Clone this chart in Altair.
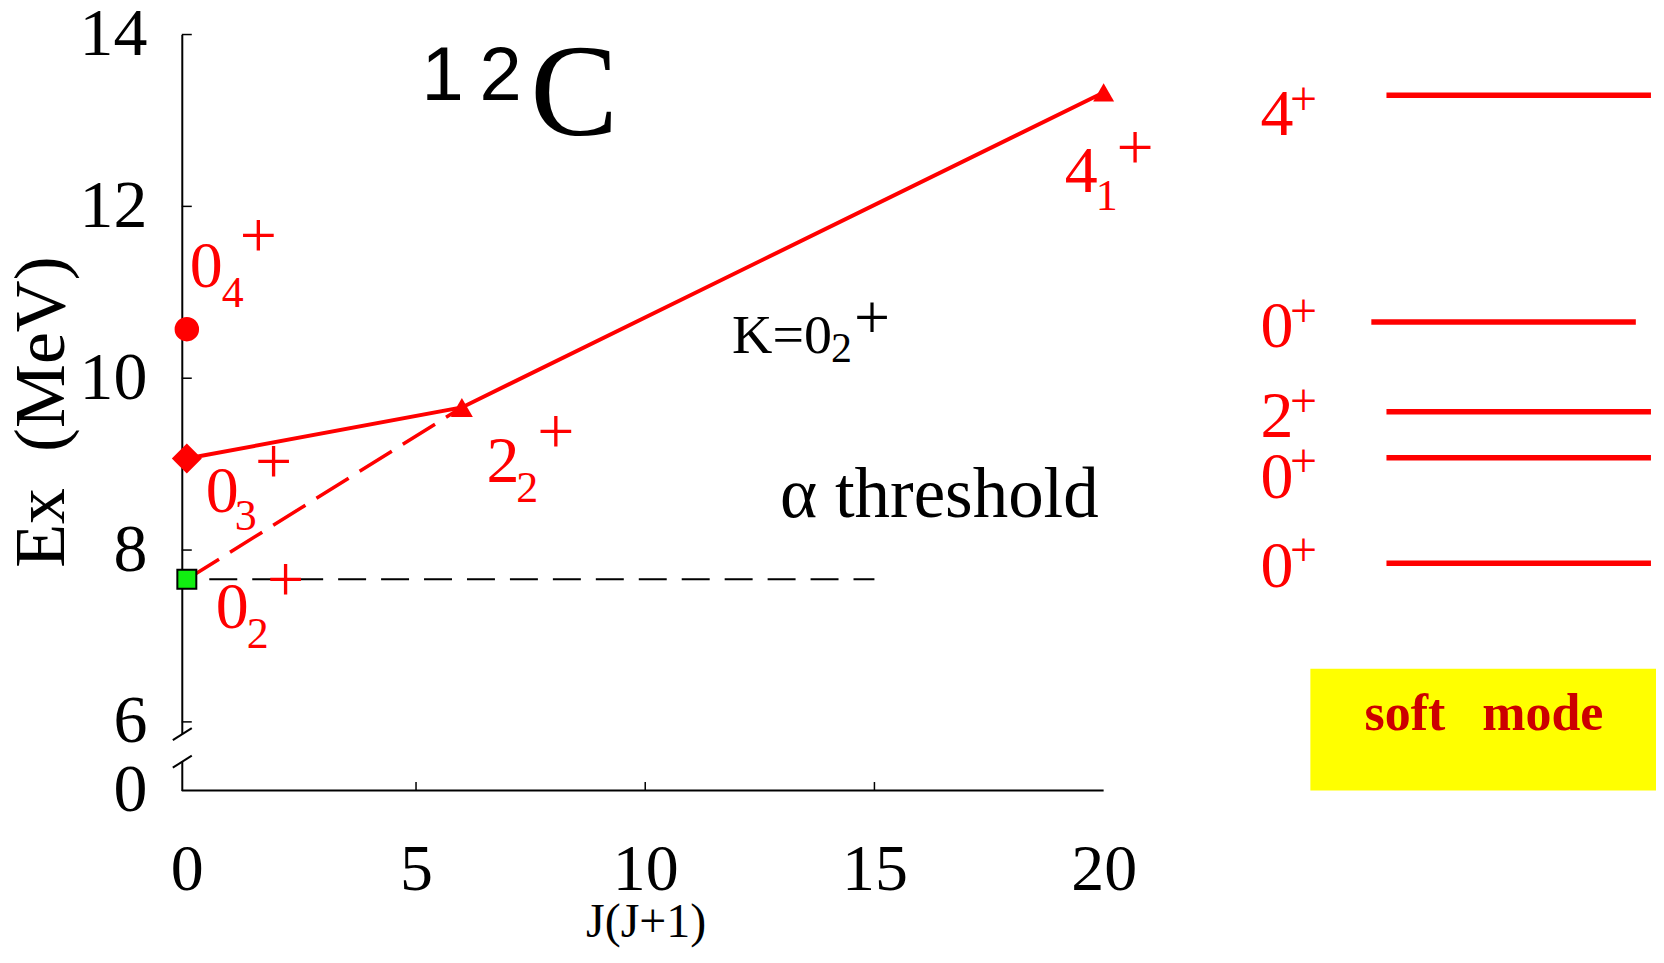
import altair as alt
import pandas as pd

# ---------------- data ----------------
X_DOMAIN = [-0.11, 32.05]
Y_DOMAIN = [5.2, 14]

# measured states (left panel)
state_x = [0, 0, 0, 6, 20]
state_y = [7.66, 9.065, 10.571, 9.66, 13.326]
state_shape = ["square", "diamond", "circle", "triangle-up", "triangle-up"]
state_size = [361, 900, 600, 484, 441]

band_x = [0, 6, 20]
band_y = [9.065, 9.66, 13.326]
dash_x = [0, 6]
dash_y = [7.66, 9.66]
thr_x = [0.49, 15]
thr_y = [7.66, 7.66]

# soft-mode levels (right panel)
level_E = [13.294, 10.655, 9.609, 9.074, 7.847]
level_x1 = [26.17, 25.84, 26.17, 26.17, 26.17]
level_x2 = [31.94, 31.61, 31.94, 31.94, 31.94]
level_J = ["4", "0", "2", "0", "0"]
level_label_x = [23.42] * 5
level_label_y = [12.826, 10.361, 9.315, 8.606, 7.571]
level_plus_x = [24.36] * 5
level_plus_y = [13.058, 10.594, 9.548, 8.850, 7.815]

box_x = [24.51]
box_x2 = [32.05]
box_y = [5.2]
box_y2 = [6.618]

# state labels: digit, subscript, plus
lab_digit = ["0", "0", "0", "2", "4"]
lab_digit_x = [0.064, 0.413, 0.631, 6.535, 19.151]
lab_digit_y = [11.06, 8.443, 7.095, 8.792, 12.163]
lab_sub = ["4", "3", "2", "2", "1"]
lab_sub_x = [0.762, 1.045, 1.306, 7.189, 19.83]
lab_sub_y = [10.83, 8.234, 6.862, 8.559, 11.954]
lab_plus_x = [1.558, 1.894, 2.156, 8.050, 20.687]
lab_plus_y = [11.41, 8.78, 7.408, 9.129, 12.431]

x_tick_vals = [5, 10, 15]
y_tick_vals = [6, 8, 10, 12, 14]
x_label_vals = [0, 5, 10, 15, 20]
y_label_vals = [5.2, 6, 8, 10, 12, 14]

RED = "#ff0000"
SERIF = "Liberation Serif"

XS = alt.Scale(domain=X_DOMAIN, nice=False, zero=False)
YS = alt.Scale(domain=Y_DOMAIN, nice=False, zero=False)
XA = alt.Axis(values=x_label_vals, ticks=False, domain=False, grid=False,
              labelFont=SERIF, labelFontSize=66, labelColor="black",
              labelPadding=47, labelFlush=False, labelOverlap=False, title=None)
YA = alt.Axis(values=y_label_vals, labelExpr="datum.value < 5.5 ? '0' : datum.label",
              ticks=False, domain=True, domainColor="black", domainWidth=2, grid=False,
              labelFont=SERIF, labelFontSize=68, labelColor="black",
              labelPadding=35, labelFlush=False, labelOverlap=False, title=None)


def ex(f="x"):
    return alt.X(f"{f}:Q", scale=XS, axis=XA)


def ey(f="y"):
    return alt.Y(f"{f}:Q", scale=YS, axis=YA)


def text_layer(t, x, y, s, c, font=SERIF, align="left", baseline="alphabetic",
               weight="normal", angle=0):
    df = pd.DataFrame({"t": t, "x": x, "y": y, "s": s, "c": c})
    return alt.Chart(df).mark_text(font=font, align=align, baseline=baseline,
                                   fontWeight=weight, angle=angle).encode(
        x=ex(), y=ey(), text="t:N",
        size=alt.Size("s:Q", scale=None), color=alt.Color("c:N", scale=None))


layers = []

# soft-mode box
layers.append(alt.Chart(pd.DataFrame({"x": box_x, "x2": box_x2, "y": box_y, "y2": box_y2}))
              .mark_rect(color="#ffff00").encode(x=ex(), x2="x2:Q", y=ey(), y2="y2:Q"))

# axis decorations: x-axis line, inward ticks, break marks
layers.append(alt.Chart(pd.DataFrame({"x": [X_DOMAIN[0]], "x2": [20], "y": [Y_DOMAIN[0]]}))
              .mark_rule(color="black", strokeWidth=2).encode(x=ex(), x2="x2:Q", y=ey()))
layers.append(alt.Chart(pd.DataFrame({"x": x_tick_vals, "y": [5.2] * 3, "y2": [5.3] * 3}))
              .mark_rule(color="black", strokeWidth=1.5).encode(x=ex(), y=ey(), y2="y2:Q"))
layers.append(alt.Chart(pd.DataFrame({"y": y_tick_vals, "x": [X_DOMAIN[0]] * 5, "x2": [0.108] * 5}))
              .mark_rule(color="black", strokeWidth=1.5).encode(x=ex(), x2="x2:Q", y=ey()))
layers.append(alt.Chart(pd.DataFrame({"x": [X_DOMAIN[0]], "y": [5.537], "y2": [5.857]}))
              .mark_rule(color="white", strokeWidth=5).encode(x=ex(), y=ey(), y2="y2:Q"))
layers.append(alt.Chart(pd.DataFrame({"x": [-0.306, -0.306], "y": [5.787, 5.467],
                                      "x2": [0.108, 0.108], "y2": [5.927, 5.607]}))
              .mark_rule(color="black", strokeWidth=2).encode(x=ex(), y=ey(), x2="x2:Q", y2="y2:Q"))

# threshold
layers.append(alt.Chart(pd.DataFrame({"x": thr_x, "y": thr_y}))
              .mark_line(color="black", strokeWidth=2, strokeDash=[28, 15]).encode(x=ex(), y=ey()))
# band lines
layers.append(alt.Chart(pd.DataFrame({"x": dash_x, "y": dash_y}))
              .mark_line(color=RED, strokeWidth=3.5, strokeDash=[38, 13]).encode(x=ex(), y=ey()))
layers.append(alt.Chart(pd.DataFrame({"x": band_x, "y": band_y}))
              .mark_line(color=RED, strokeWidth=4).encode(x=ex(), y=ey()))

# levels
layers.append(alt.Chart(pd.DataFrame({"x": level_x1, "x2": level_x2, "y": level_E}))
              .mark_rule(color=RED, strokeWidth=5.5).encode(x=ex(), x2="x2:Q", y=ey()))

# markers
sdf = pd.DataFrame({"x": state_x, "y": state_y, "shape": state_shape, "size": state_size})
layers.append(alt.Chart(sdf.iloc[1:]).mark_point(filled=True, color=RED, opacity=1).encode(
    x=ex(), y=ey(), shape=alt.Shape("shape:N", scale=None), size=alt.Size("size:Q", scale=None)))
layers.append(alt.Chart(sdf.iloc[:1]).mark_point(filled=True, fill="#11ee11", stroke="black",
                                                 strokeWidth=2, opacity=1).encode(
    x=ex(), y=ey(), shape=alt.Shape("shape:N", scale=None), size=alt.Size("size:Q", scale=None)))

# state labels
layers.append(text_layer(lab_digit, lab_digit_x, lab_digit_y, [66] * 5, [RED] * 5))
layers.append(text_layer(lab_sub, lab_sub_x, lab_sub_y, [44] * 5, [RED] * 5))
layers.append(text_layer(["+"] * 5, lab_plus_x, lab_plus_y, [66] * 5, [RED] * 5, align="center"))

# level labels
layers.append(text_layer(level_J, level_label_x, level_label_y, [66] * 5, [RED] * 5))
layers.append(text_layer(["+"] * 5, level_plus_x, level_plus_y, [48] * 5, [RED] * 5, align="center"))

# black annotations
layers.append(text_layer(["K=0", "2", "\u03b1 threshold", "C"],
                         [11.895, 14.05, 12.94, 7.494],
                         [10.292, 10.187, 8.385, 12.826],
                         [56, 42, 71, 132], ["black"] * 4))
layers.append(text_layer(["+", "J(J+1)"], [14.95, 10.02], [10.454, 3.491], [64, 48],
                         ["black"] * 2, align="center"))
layers.append(text_layer(["1", "2"], [5.119, 6.383], [13.233, 13.233], [76, 76], ["black"] * 2,
                         font="Liberation Sans"))
layers.append(text_layer(["Ex\u00a0\u00a0(MeV)"], [-3.16], [9.606], [72], ["black"],
                         align="center", baseline="middle", angle=270))

# soft mode text
layers.append(text_layer(["soft", "mode"], [25.69, 28.26], [5.909, 5.909], [52, 52],
                         ["#cc0000"] * 2, weight="bold"))

chart = alt.layer(*layers).properties(
    width=1476, height=757,
    background="white",
    autosize=alt.AutoSizeParams(type="none"),
    padding={"left": 174, "top": 26, "right": 0, "bottom": 158},
).configure_view(strokeWidth=0, strokeOpacity=0)

chart.save("out.html", embed_options={"renderer": "svg", "actions": False})
